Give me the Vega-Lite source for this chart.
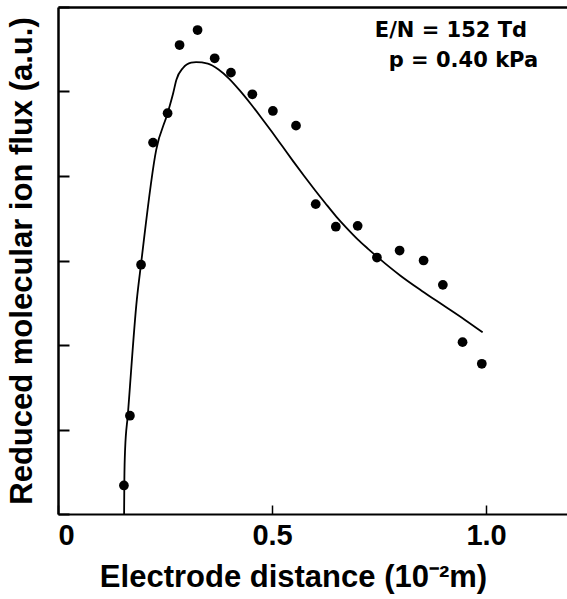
{
  "$schema": "https://vega.github.io/schema/vega-lite/v6.json",
  "width": 509,
  "height": 507,
  "autosize": {"type": "none"},
  "padding": {"left": 58, "top": 7, "right": 0, "bottom": 85},
  "background": "white",
  "config": {"view": {"stroke": null}, "font": "Liberation Sans"},
  "datasets": {
    "measured": [
      {"d": 0.154, "flux": 0.338},
      {"d": 0.168, "flux": 1.163},
      {"d": 0.194, "flux": 2.95},
      {"d": 0.222, "flux": 4.395},
      {"d": 0.256, "flux": 4.743},
      {"d": 0.284, "flux": 5.55},
      {"d": 0.326, "flux": 5.727},
      {"d": 0.366, "flux": 5.393},
      {"d": 0.404, "flux": 5.223},
      {"d": 0.454, "flux": 4.967},
      {"d": 0.502, "flux": 4.77},
      {"d": 0.556, "flux": 4.596},
      {"d": 0.602, "flux": 3.667},
      {"d": 0.649, "flux": 3.4},
      {"d": 0.7, "flux": 3.41},
      {"d": 0.745, "flux": 3.035},
      {"d": 0.798, "flux": 3.118},
      {"d": 0.854, "flux": 3.0},
      {"d": 0.899, "flux": 2.712},
      {"d": 0.945, "flux": 2.034},
      {"d": 0.99, "flux": 1.778}
    ],
    "model": [
      {"d": 0.1544, "flux": 0},
      {"d": 0.155, "flux": 0.4},
      {"d": 0.1567, "flux": 0.76},
      {"d": 0.163, "flux": 1.165},
      {"d": 0.1841, "flux": 2.535},
      {"d": 0.194, "flux": 2.96},
      {"d": 0.2294, "flux": 4.31},
      {"d": 0.256, "flux": 4.743},
      {"d": 0.269, "flux": 4.98},
      {"d": 0.2766, "flux": 5.14},
      {"d": 0.292, "flux": 5.278},
      {"d": 0.311, "flux": 5.341},
      {"d": 0.3225, "flux": 5.347},
      {"d": 0.35, "flux": 5.33},
      {"d": 0.375, "flux": 5.26},
      {"d": 0.4, "flux": 5.15},
      {"d": 0.425, "flux": 5.01},
      {"d": 0.45, "flux": 4.855},
      {"d": 0.475, "flux": 4.69},
      {"d": 0.5, "flux": 4.52},
      {"d": 0.525, "flux": 4.345},
      {"d": 0.55, "flux": 4.17},
      {"d": 0.575, "flux": 4.0},
      {"d": 0.6, "flux": 3.835},
      {"d": 0.625, "flux": 3.675},
      {"d": 0.65, "flux": 3.52},
      {"d": 0.675, "flux": 3.38},
      {"d": 0.7, "flux": 3.25},
      {"d": 0.725, "flux": 3.135},
      {"d": 0.75, "flux": 3.025},
      {"d": 0.8, "flux": 2.82},
      {"d": 0.85, "flux": 2.64},
      {"d": 0.9, "flux": 2.47},
      {"d": 0.95, "flux": 2.3},
      {"d": 0.992, "flux": 2.15}
    ],
    "conditions": [
      {"d": 1.0958, "flux": 5.648, "label": "E/N = 152 Td"},
      {"d": 1.1215, "flux": 5.294, "label": "p = 0.40 kPa"}
    ]
  },
  "layer": [
    {
      "data": {"name": "model"},
      "mark": {"type": "line", "interpolate": "monotone", "color": "black", "strokeWidth": 1.8},
      "encoding": {
        "x": {
          "field": "d",
          "type": "quantitative",
          "scale": {"domain": [0, 1.189], "nice": false, "zero": false},
          "axis": {
            "orient": "bottom",
            "values": [0, 0.5, 1.0],
            "labelExpr": "datum.value == 0 ? '0' : format(datum.value, '.1f')",
            "labelFlush": true,
            "labelFont": "Liberation Sans",
            "labelFontSize": 29,
            "labelFontWeight": "bold",
            "labelColor": "black",
            "labelPadding": 16,
            "tickSize": -9,
            "tickWidth": 1.5,
            "tickColor": "black",
            "domainColor": "black",
            "domainWidth": 2,
            "grid": false,
            "title": "Electrode distance (10⁻²m)",
            "titleFont": "Liberation Sans",
            "titleFontSize": 31,
            "titleFontWeight": "bold",
            "titleColor": "black",
            "titlePadding": 12,
            "titleX": 235
          }
        },
        "y": {
          "field": "flux",
          "type": "quantitative",
          "scale": {"domain": [0, 6], "nice": false, "zero": false},
          "axis": {
            "values": [0, 1, 2, 3, 4, 5, 6],
            "labels": false,
            "tickSize": -11,
            "tickWidth": 2,
            "tickColor": "black",
            "domainColor": "black",
            "domainWidth": 2.5,
            "grid": false,
            "title": "Reduced molecular ion flux (a.u.)",
            "titleFont": "Liberation Sans",
            "titleFontSize": 31,
            "titleFontWeight": "bold",
            "titleColor": "black",
            "titlePadding": 19
          }
        }
      }
    },
    {
      "data": {"name": "measured"},
      "mark": {"type": "point", "filled": true, "color": "black", "opacity": 1, "size": 95},
      "encoding": {
        "x": {"field": "d", "type": "quantitative", "axis": null},
        "y": {"field": "flux", "type": "quantitative"}
      }
    },
    {
      "data": {"name": "conditions"},
      "mark": {"type": "text", "align": "right", "baseline": "alphabetic", "font": "DejaVu Sans", "fontSize": 21, "fontWeight": "bold", "color": "black"},
      "encoding": {
        "x": {"field": "d", "type": "quantitative", "axis": null},
        "y": {"field": "flux", "type": "quantitative"},
        "text": {"field": "label"}
      }
    },
    {
      "data": {"name": "measured"},
      "mark": {"type": "point", "opacity": 0},
      "encoding": {
        "x": {
          "field": "d",
          "type": "quantitative",
          "axis": {"orient": "top", "labels": false, "ticks": false, "title": null, "grid": false, "domainColor": "black", "domainWidth": 2.5}
        },
        "y": {"field": "flux", "type": "quantitative"}
      }
    }
  ],
  "resolve": {"axis": {"x": "independent"}}
}
